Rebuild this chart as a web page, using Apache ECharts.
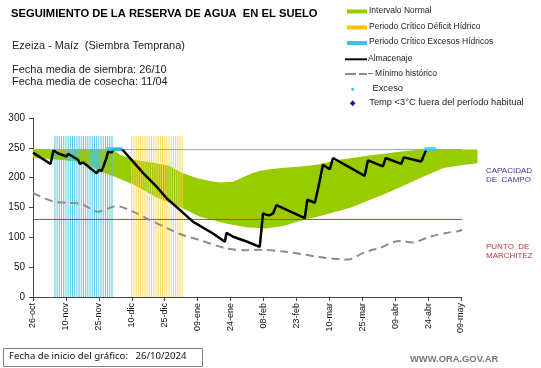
<!DOCTYPE html>
<html><head><meta charset="utf-8">
<script src="https://cdn.jsdelivr.net/npm/echarts@6/dist/echarts.min.js"></script>
<style>html,body{margin:0;padding:0;background:#fff}#c{width:541px;height:368px}</style>
</head><body><div id="c"></div>
<script>
// x = days since 26-oct-2024
const xTickLabels = ['26-oct','10-nov','25-nov','10-dic','25-dic','09-ene','24-ene','08-feb','23-feb','10-mar','25-mar','09-abr','24-abr','09-may'];
const yTicks = [0,50,100,150,200,250,300];
const capacidadCampo = 247;
const puntoMarchitez = 130;
const normalUpper = [[0,247],[36,247],[40,238],[46,230],[55,225],[62,220],[68,208],[75,199],[80,195],[85,192],[91,193],[96,201],[100,208],[104,212],[110,215],[116,217],[123,219],[130,222],[136,227],[141,231],[147,234],[153,237],[160,240],[166,243],[172,245.5],[178,247],[202.5,247]];
const normalLower = [[0,234],[9,231],[20,227],[26,220],[31,210],[37,202],[46,188],[56,167],[67,151],[76,134.5],[88,123],[97,117],[106,115],[114,119],[123,129],[130,135],[138,143],[145,150],[153,162],[160,172],[168,185],[178,202],[187,216],[195,221],[202.5,224]];
const almacenaje = [[0,242],[8,223],[9.3,245.5],[11.5,240.5],[15.3,235.5],[16,240],[20.5,230],[21.4,223],[22.9,225.5],[29,207.5],[30,213],[31.2,211],[32,218],[33.5,233],[34.3,245],[35.8,242],[36.6,247.5],[39.6,247.5],[41,246],[45.6,227],[50.2,207.5],[56.3,185],[60.9,165.5],[66.9,146],[73,126],[82,106.5],[87.4,92.5],[88.2,107.5],[91.2,101],[97.3,93],[103.3,84],[104.8,140],[106.3,138],[107.9,137],[109.4,140],[110.9,154],[123.8,132],[125,163],[128.4,158],[129.9,182],[130.6,183],[132.1,221.5],[135.2,214],[136.7,233],[151.1,203],[152.6,229],[159.4,219],[160.7,233],[167.8,223],[168.9,234],[176.9,227],[179.2,247]];
const minimoHistorico = [[0,174],[9.3,160],[15.3,158],[22,156],[29.7,143],[38,152.5],[45.6,143],[53.3,129],[61,115.5],[67,105.5],[76,95.5],[88,81.5],[97,78.5],[103,79],[115.5,75.7],[130.6,67],[141,63],[144,63],[150,73],[155,79.7],[157,80.6],[167,94],[173,91.5],[180.7,101],[189.8,108.3],[194.4,111],[202,124.5]];
const excesoDays = [34,35,36,37,38,39,40,179,180,181,182,183];
const periodoExcesoDays = [10,11,12,13,14,15,16,17,18,19,20,21,22,23,24,25,26,27,28,29,30,31,32,33,34,35,36];
const periodoDeficitDays = [45,46,47,48,49,50,51,52,53,54,55,56,57,58,59,60,61,62,63,64,65,66,67,68];
const periodoTop = 270;

const F = 'Liberation Sans, Arial, sans-serif';
const chart = echarts.init(document.getElementById('c'), null, {renderer:'canvas'});

function legendText(x, y, t, size){
  return {type:'text', left:x, top:y - (size||8.5)/2 - 1, style:{text:t, font:(size||8.5)+'px '+F, fill:'#222'}};
}

chart.setOption({
  animation:false,
  backgroundColor:'#fff',
  grid:{left:33, right:80, top:118, bottom:71, containLabel:false, outerBoundsMode:'none'},
  xAxis:{type:'value', min:0, max:195, interval:15,
    axisLine:{lineStyle:{color:'#444', width:1}},
    axisTick:{show:true, length:4, lineStyle:{color:'#444'}},
    splitLine:{show:false},
    axisLabel:{rotate:90, margin:6, fontSize:9, fontFamily:F, color:'#111',
      formatter:function(v){ return xTickLabels[Math.round(v/15)] || ''; }}
  },
  yAxis:{type:'value', min:0, max:300, interval:50,
    name:'Milímetros', nameLocation:'middle', nameRotate:90, nameGap:26,
    nameTextStyle:{fontSize:7, fontFamily:F, color:'#111'},
    axisLine:{show:true, lineStyle:{color:'#444', width:1}},
    axisTick:{show:true, length:4, lineStyle:{color:'#444'}},
    splitLine:{show:false},
    axisLabel:{margin:8, fontSize:10, fontFamily:F, color:'#111',
      formatter:function(v){ return yTicks.indexOf(v) >= 0 ? String(v) : ''; }}
  },
  series:[
    {type:'custom', name:'Intervalo Normal', z:1, clip:false, data:normalUpper,
      renderItem:function(params, api){
        if (params.dataIndex !== 0) return null;
        const pts = normalUpper.map(function(p){return api.coord(p);})
          .concat(normalLower.slice().reverse().map(function(p){return api.coord(p);}));
        return {type:'polygon', shape:{points:pts}, style:{fill:'#99cc00'}};
      }},
    {type:'bar', name:'Periodo Crítico Excesos Hídricos', z:2, barWidth:1, barGap:'-100%',
      data:periodoExcesoDays.map(function(d){return [d, periodoTop];}),
      itemStyle:{color:'#3fc3e6', opacity:0.9}},
    {type:'bar', name:'Periodo Crítico Déficit Hídrico', z:2, barWidth:1, barGap:'-100%',
      data:periodoDeficitDays.map(function(d){return [d, periodoTop];}),
      itemStyle:{color:'#f3d64e', opacity:0.9}},
    {type:'line', name:'Capacidad de campo', z:3, clip:false, symbol:'none',
      data:[[0,capacidadCampo],[202.5,capacidadCampo]], lineStyle:{color:'#8fa6c6', width:1}},
    {type:'line', name:'Punto de marchitez', z:3, clip:false, symbol:'none',
      data:[[0,puntoMarchitez],[202.5,puntoMarchitez]], lineStyle:{color:'#d03a3a', width:1}},
    {type:'line', name:'Mínimo histórico', z:4, clip:false, symbol:'none', smooth:0.3,
      data:minimoHistorico, lineStyle:{color:'#8c8c8c', width:2, type:[8,5]}},
    {type:'line', name:'Almacenaje', z:5, clip:false, symbol:'none',
      data:almacenaje, lineStyle:{color:'#000', width:2.5}},
    {type:'scatter', name:'Exceso', z:6, clip:false, symbol:'circle', symbolSize:4,
      data:excesoDays.map(function(d){return [d, 248];}), itemStyle:{color:'#33ccee'}}
  ],
  graphic:[
    {type:'text', left:11, top:8, style:{text:'SEGUIMIENTO DE LA RESERVA DE AGUA  EN EL SUELO', font:'bold 11.2px '+F, fill:'#000'}},
    {type:'text', left:12, top:40, style:{text:'Ezeiza - Maíz  (Siembra Temprana)', font:'11px '+F, fill:'#222'}},
    {type:'text', left:12, top:64, style:{text:'Fecha media de siembra: 26/10', font:'11px '+F, fill:'#222'}},
    {type:'text', left:12, top:76, style:{text:'Fecha media de cosecha: 11/04', font:'11px '+F, fill:'#222'}},
    // legend
    {type:'rect', shape:{x:347, y:9.5, width:20, height:4}, style:{fill:'#99cc00'}},
    legendText(369, 11, 'Intervalo Normal'),
    {type:'rect', shape:{x:347, y:25.5, width:20, height:4}, style:{fill:'#f5c400'}},
    legendText(369, 27.3, 'Periodo Crítico Déficit Hídrico'),
    {type:'rect', shape:{x:347, y:41, width:20, height:4}, style:{fill:'#33c3ee'}},
    legendText(369, 42.7, 'Periodo Crítico Excesos Hídricos'),
    {type:'line', shape:{x1:345, y1:59.3, x2:367, y2:59.3}, style:{stroke:'#000', lineWidth:2}},
    legendText(368, 59.3, 'Almacenaje'),
    {type:'line', shape:{x1:345, y1:74, x2:367, y2:74}, style:{stroke:'#8c8c8c', lineWidth:2, lineDash:[11,3,6,0]}},
    legendText(368, 74, '– Mínimo histórico'),
    {type:'circle', shape:{cx:352.7, cy:89.3, r:1.6}, style:{fill:'#33ccee'}},
    legendText(372.5, 89.3, 'Exceso', 9.3),
    {type:'polygon', shape:{points:[[352.7,100.3],[355.5,103.3],[352.7,106.3],[349.9,103.3]]}, style:{fill:'#1a1a9c'}},
    legendText(369.3, 103.3, 'Temp <3°C fuera del período habitual', 9.3),
    // right labels
    {type:'text', left:486, top:166, style:{text:'CAPACIDAD\nDE  CAMPO', font:'8px '+F, fill:'#3a3a9a', lineHeight:9}},
    {type:'text', left:486, top:242, style:{text:'PUNTO  DE\nMARCHITEZ', font:'8px '+F, fill:'#b83a3a', lineHeight:9}},
    // bottom
    {type:'rect', shape:{x:3.5, y:348.5, width:199, height:18}, style:{fill:'none', stroke:'#8c7b8c', lineWidth:1}},
    {type:'text', left:9, top:351.5, style:{text:'Fecha de inicio del gráfico:   26/10/2024', font:'9.6px Noto Sans, sans-serif', fill:'#111'}},
    {type:'text', left:410, top:355, style:{text:'WWW.ORA.GOV.AR', font:'bold 9.4px '+F, fill:'#777'}}
  ]
});
</script></body></html>
